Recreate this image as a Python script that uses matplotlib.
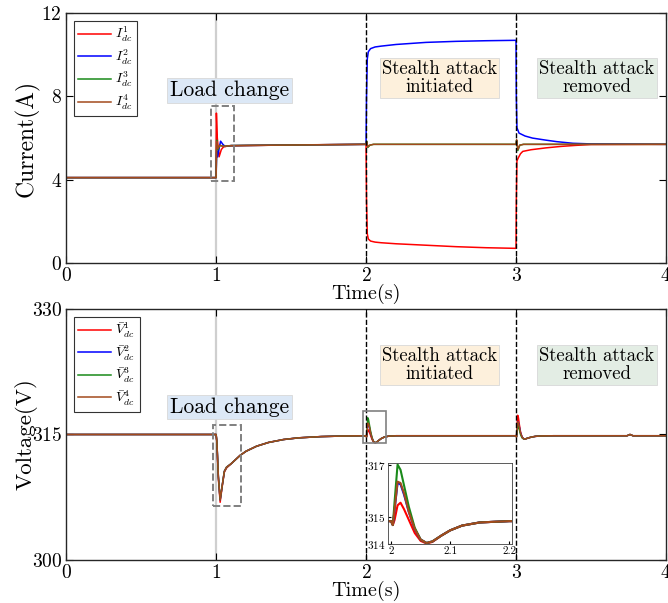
import matplotlib
matplotlib.use("Agg")
import matplotlib.pyplot as plt
from matplotlib.patches import Rectangle

plt.rcParams["font.family"] = "serif"
plt.rcParams["font.serif"] = ["cmr10", "DejaVu Serif"]
plt.rcParams["mathtext.fontset"] = "cm"
plt.rcParams["axes.formatter.use_mathtext"] = True

# ---- top panel: dc currents ----
t_I1 = [0, 1.0, 1.002, 1.008, 1.02, 1.035, 1.05, 1.08, 1.2, 1.5, 2.0, 2.003, 2.008, 2.015, 2.03, 2.06,
        2.1, 2.2, 2.4, 2.6, 2.8, 3.0, 3.002, 3.006, 3.015, 3.03, 3.045, 3.1, 3.2, 3.3, 3.4, 3.5, 4.0]
I1 = [4.1, 4.1, 7.2, 6.0, 5.1, 5.45, 5.58, 5.62, 5.64, 5.67, 5.7, 3.0, 1.4, 1.15, 1.05, 1.0,
      0.97, 0.92, 0.85, 0.78, 0.73, 0.7, 3.0, 4.9, 5.05, 5.25, 5.36, 5.44, 5.53, 5.6, 5.65, 5.69, 5.7]
t_I2 = [0, 1.0, 1.004, 1.01, 1.02, 1.03, 1.045, 1.06, 1.1, 2.0, 2.003, 2.008, 2.015, 2.03, 2.06, 2.1,
        2.2, 2.4, 2.6, 2.8, 3.0, 3.002, 3.006, 3.02, 3.06, 3.11, 3.2, 3.27, 3.38, 3.5, 4.0]
I2 = [4.1, 4.1, 5.4, 5.1, 5.5, 5.85, 5.7, 5.6, 5.64, 5.7, 8.0, 9.8, 10.15, 10.3, 10.38, 10.42,
      10.5, 10.6, 10.65, 10.68, 10.7, 8.0, 6.5, 6.24, 6.1, 6.0, 5.9, 5.83, 5.75, 5.72, 5.7]
t_I3 = [0, 1.0, 1.004, 1.012, 1.025, 1.05, 1.1, 2.0, 2.004, 2.012, 2.025, 2.05, 3.0, 3.004, 3.012,
        3.025, 3.05, 4.0]
I3 = [4.1, 4.1, 5.9, 5.45, 5.65, 5.6, 5.64, 5.7, 5.85, 5.55, 5.66, 5.7, 5.7, 5.9, 5.4, 5.66, 5.7, 5.7]
t_I4 = [0, 1.0, 1.004, 1.012, 1.025, 1.05, 1.1, 2.0, 2.004, 2.012, 2.025, 2.05, 3.0, 3.004, 3.012,
        3.025, 3.05, 4.0]
I4 = [4.1, 4.1, 5.85, 5.5, 5.65, 5.6, 5.64, 5.7, 5.82, 5.58, 5.66, 5.7, 5.7, 5.92, 5.45, 5.66, 5.7, 5.7]

# ---- bottom panel: averaged dc voltages ----
t_V = [0, 1.0, 1.005, 1.015, 1.027, 1.04, 1.055, 1.07, 1.1, 1.13,
       1.16, 1.2, 1.27, 1.35, 1.45, 1.55, 1.7, 1.85, 2.0, 2.003,
       2.006, 2.011, 2.016, 2.022, 2.03, 2.04, 2.05, 2.06, 2.07, 2.085,
       2.1, 2.12, 2.15, 2.2, 2.5, 3.0, 3.003, 3.006, 3.011, 3.016,
       3.022, 3.03, 3.04, 3.05, 3.06, 3.075, 3.1, 3.13, 3.17, 3.25,
       3.5, 3.74, 3.76, 3.78, 4.0]
V1 = [315.0, 315.0, 314.1, 309.8, 306.9, 308.7, 310.5, 311.0, 311.5, 312.0,
      312.5, 313.0, 313.6, 314.05, 314.4, 314.6, 314.75, 314.82, 314.85, 314.7,
      314.9, 315.45, 315.55, 315.3, 314.9, 314.4, 314.1, 314.0, 314.06, 314.3,
      314.5, 314.68, 314.8, 314.85, 314.85, 314.85, 314.7, 315.8, 317.3, 317.0,
      316.2, 315.3, 314.7, 314.5, 314.45, 314.55, 314.68, 314.78, 314.83, 314.85,
      314.85, 314.85, 315.0, 314.85, 314.85]
V2 = [315.0, 315.0, 314.2, 310.0, 307.2, 308.8, 310.6, 311.1, 311.5, 312.0,
      312.5, 313.0, 313.6, 314.05, 314.4, 314.6, 314.75, 314.82, 314.85, 314.7,
      315.3, 316.3, 316.25, 315.85, 315.2, 314.55, 314.15, 314.02, 314.08, 314.3,
      314.5, 314.68, 314.8, 314.85, 314.85, 314.85, 314.7, 315.4, 316.5, 316.4,
      315.9, 315.2, 314.7, 314.5, 314.45, 314.55, 314.68, 314.78, 314.83, 314.85,
      314.85, 314.85, 315.0, 314.85, 314.85]
V3 = [315.0, 315.0, 314.2, 310.0, 307.2, 308.8, 310.6, 311.1, 311.5, 312.0,
      312.5, 313.0, 313.6, 314.05, 314.4, 314.6, 314.75, 314.82, 314.85, 314.7,
      315.6, 317.0, 316.8, 316.2, 315.4, 314.6, 314.15, 314.02, 314.08, 314.3,
      314.5, 314.68, 314.8, 314.85, 314.85, 314.85, 314.7, 315.2, 315.9, 316.0,
      315.6, 315.0, 314.6, 314.48, 314.45, 314.55, 314.68, 314.78, 314.83, 314.85,
      314.85, 314.85, 315.0, 314.85, 314.85]
V4 = [315.0, 315.0, 314.2, 310.0, 307.2, 308.8, 310.6, 311.1, 311.5, 312.0,
      312.5, 313.0, 313.6, 314.05, 314.4, 314.6, 314.75, 314.82, 314.85, 314.7,
      315.3, 316.35, 316.3, 315.9, 315.2, 314.55, 314.15, 314.02, 314.08, 314.3,
      314.5, 314.68, 314.8, 314.85, 314.85, 314.85, 314.7, 315.4, 316.5, 316.4,
      315.9, 315.2, 314.7, 314.5, 314.45, 314.55, 314.68, 314.78, 314.83, 314.85,
      314.85, 314.85, 315.0, 314.85, 314.85]

labels_I = [r"$I_{dc}^{1}$", r"$I_{dc}^{2}$", r"$I_{dc}^{3}$", r"$I_{dc}^{4}$"]
labels_V = [r"$\bar{V}_{dc}^{1}$", r"$\bar{V}_{dc}^{2}$", r"$\bar{V}_{dc}^{3}$", r"$\bar{V}_{dc}^{4}$"]
cols = ["#ff0000", "#0000ff", "#1a8a1a", "#a34a1c"]

BLUEBOX = "#dce8f6"; PEACH = "#fdf0dc"; MINT = "#e3ede4"

fig = plt.figure(figsize=(6.68, 6.03), dpi=100)
ax1 = fig.add_axes([0.099, 0.564, 0.898, 0.414])
ax2 = fig.add_axes([0.099, 0.0713, 0.898, 0.4163])

def style(ax):
    ax.set_xlim(0, 4)
    ax.set_xticks([0, 1, 2, 3, 4])
    ax.tick_params(direction="in", top=True, right=True, labelsize=14, length=5, pad=3)
    for s in ax.spines.values():
        s.set_linewidth(1.0); s.set_color("#262626")
    ax.set_xlabel("Time(s)", fontsize=14.5, labelpad=-1)

def events(ax):
    ax.axvline(1, color="#cfcfcf", lw=1.6, zorder=0)
    ax.axvline(2, color="k", ls="--", lw=1.0, zorder=5)
    ax.axvline(3, color="k", ls="--", lw=1.0, zorder=5)

def tag(ax, x, y, s, fc, fs=13.5):
    ax.text(x, y, s, ha="center", va="center", fontsize=fs, linespacing=1.0,
            bbox=dict(boxstyle="square,pad=0.12", fc=fc, ec="#d8d8d8", lw=0.6), zorder=6)

def leg(ax):
    lg = ax.legend(loc="upper left", fontsize=10, frameon=True, fancybox=False, edgecolor="k",
                   handlelength=2.4, handletextpad=0.3, labelspacing=0.25,
                   borderaxespad=0.55, borderpad=0.3)
    lg.get_frame().set_linewidth(0.8)

# top
events(ax1)
for t, v, c, l in zip([t_I1, t_I2, t_I3, t_I4], [I1, I2, I3, I4], cols, labels_I):
    ax1.plot(t, v, color=c, lw=1.1, label=l)
ax1.set_ylim(0, 12)
ax1.set_yticks([0, 4, 8, 12])
style(ax1)
ax1.set_ylabel("Current(A)", fontsize=17, labelpad=1)
ax1.add_patch(Rectangle((0.965, 3.94), 0.155, 3.6, fill=False, ls="--", ec="#808080", lw=1.4, zorder=6))
tag(ax1, 1.09, 8.3, "Load change", BLUEBOX, 15.5)
tag(ax1, 2.49, 8.9, "Stealth attack\ninitiated", PEACH)
tag(ax1, 3.54, 8.9, "Stealth attack\nremoved", MINT)
leg(ax1)

# bottom
events(ax2)
for v, c, l in zip([V1, V2, V3, V4], cols, labels_V):
    ax2.plot(t_V, v, color=c, lw=1.1, label=l)
ax2.set_ylim(300, 330)
ax2.set_yticks([300, 315, 330])
style(ax2)
ax2.set_ylabel("Voltage(V)", fontsize=16.5, labelpad=-4)
ax2.add_patch(Rectangle((0.978, 306.4), 0.187, 9.75, fill=False, ls="--", ec="#808080", lw=1.4, zorder=6))
ax2.add_patch(Rectangle((1.98, 314.0), 0.153, 3.8, fill=False, ec="#808080", lw=1.2, zorder=6))
tag(ax2, 1.09, 318.3, "Load change", BLUEBOX, 15.5)
tag(ax2, 2.49, 323.3, "Stealth attack\ninitiated", PEACH)
tag(ax2, 3.54, 323.3, "Stealth attack\nremoved", MINT)
leg(ax2)

# inset zoom at t=2
axi = fig.add_axes([0.581, 0.0978, 0.185, 0.134])
for v, c in zip([V1, V2, V3, V4], cols):
    axi.plot(t_V, v, color=c, lw=1.5)
axi.set_xlim(1.995, 2.204)
axi.set_ylim(313.98, 317.05)
axi.set_xticks([2, 2.1, 2.2]); axi.set_xticklabels(["2", "2.1", "2.2"])
axi.set_yticks([314, 315, 317])
axi.tick_params(direction="in", labelsize=8, length=2, pad=2)
for s in axi.spines.values():
    s.set_linewidth(0.6); s.set_color("#404040")

fig.savefig("out.png", dpi=100)
